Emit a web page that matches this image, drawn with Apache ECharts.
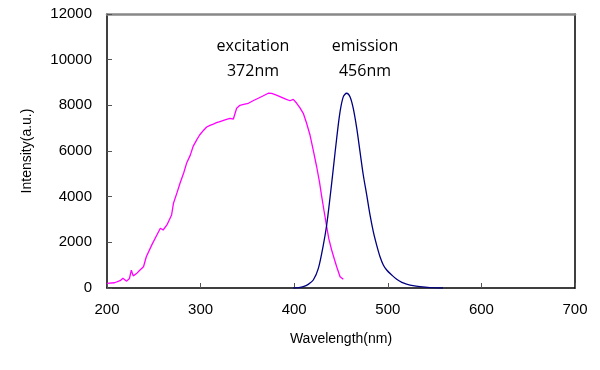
<!DOCTYPE html>
<html>
<head>
<meta charset="utf-8">
<script src="https://cdn.jsdelivr.net/npm/echarts@6/dist/echarts.min.js"></script>
<style>html,body{margin:0;padding:0;background:#fff;}#c{width:600px;height:370px;}</style>
</head>
<body>
<div id="c"></div>
<script>
// Excitation spectrum (wavelength nm, intensity)
const excitationWl = [200, 208, 214, 217, 221, 224, 226, 228, 232, 235, 239, 242, 248, 253, 257, 260, 264, 269, 271, 275, 278, 282, 285, 289, 292, 296, 299, 303, 306.5, 310, 313.6, 317, 320.7, 326, 331.4, 335, 338.5, 342, 346, 351, 356, 361.6, 367, 372.3, 376, 381, 386, 391, 395.5, 399, 402.7, 406, 409.7, 413, 416.9, 420, 424, 427, 429.4, 432, 434.7, 437, 440, 443, 445.4, 449, 452.5];
const excitationVal = [200, 230, 320, 430, 300, 420, 780, 530, 650, 780, 930, 1370, 1900, 2300, 2620, 2540, 2760, 3200, 3710, 4200, 4585, 5050, 5460, 5820, 6200, 6500, 6700, 6900, 7050, 7120, 7180, 7240, 7290, 7360, 7430, 7400, 7870, 8000, 8040, 8090, 8200, 8310, 8420, 8530, 8520, 8450, 8360, 8270, 8200, 8260, 8090, 7900, 7650, 7250, 6700, 6100, 5310, 4650, 4000, 3350, 2685, 2150, 1665, 1250, 930, 495, 380];

// Emission spectrum (wavelength nm, intensity)
const emissionWl = [399, 405, 409.7, 415, 420.4, 425.8, 431.1, 434.7, 438.2, 441.8, 445.4, 449, 452.5, 456, 459.6, 463.1, 466.8, 470.3, 473.8, 477.5, 481, 484.5, 488.1, 491.7, 495.2, 498.8, 504.2, 509.5, 515, 520, 527, 534.4, 545, 559];
const emissionVal = [0, 15, 57, 160, 350, 860, 1880, 2760, 3930, 5240, 6560, 7720, 8380, 8530, 8380, 7870, 7000, 5970, 4950, 4070, 3200, 2470, 1880, 1370, 1010, 790, 570, 380, 250, 175, 100, 57, 20, 0];

const xTicks = [200, 300, 400, 500, 600, 700];
const yTicks = [0, 2000, 4000, 6000, 8000, 10000, 12000];

const annotations = [["excitation", "372nm"], ["emission", "456nm"]];

const chart = echarts.init(document.getElementById('c'), null, {renderer: 'canvas'});
const labelFont = {fontFamily: 'Liberation Sans', fontSize: 15, color: '#000'};
const tickStyle = {show: true, inside: true, length: 5, lineStyle: {color: '#555', width: 1}};
const annFont = '16px "Open Sans"';
function annText(str, x, y) {
  return {type: 'text', x: x, y: y, style: {text: str, textAlign: 'center', textVerticalAlign: 'middle', font: annFont, fill: '#000'}};
}

chart.setOption({
  animation: false,
  backgroundColor: '#fff',
  grid: {left: 107, right: 25, top: 14, bottom: 82, containLabel: false},
  xAxis: [{
    type: 'value', min: xTicks[0], max: xTicks[xTicks.length - 1], interval: 100,
    position: 'bottom',
    name: 'Wavelength(nm)', nameLocation: 'middle', nameGap: 44,
    nameTextStyle: {fontFamily: 'Liberation Sans', fontSize: 14, color: '#000'},
    axisLine: {show: true, onZero: false, lineStyle: {color: '#000', width: 1.5}},
    axisTick: tickStyle,
    axisLabel: Object.assign({margin: 14, formatter: v => String(v)}, labelFont),
    splitLine: {show: false}
  }, {
    type: 'value', min: xTicks[0], max: xTicks[xTicks.length - 1], position: 'top',
    axisLine: {show: true, onZero: false, lineStyle: {color: '#888', width: 2.5}},
    axisTick: {show: false}, axisLabel: {show: false}, splitLine: {show: false}
  }],
  yAxis: [{
    type: 'value', min: yTicks[0], max: yTicks[yTicks.length - 1], interval: 2000,
    position: 'left',
    name: 'Intensity(a.u.)', nameLocation: 'middle', nameGap: 73, nameRotate: 90,
    nameTextStyle: {fontFamily: 'Liberation Sans', fontSize: 14, color: '#000'},
    axisLine: {show: true, onZero: false, lineStyle: {color: '#000', width: 1.5}},
    axisTick: tickStyle,
    axisLabel: Object.assign({margin: 15, formatter: v => String(v)}, labelFont),
    splitLine: {show: false}
  }, {
    type: 'value', min: yTicks[0], max: yTicks[yTicks.length - 1], position: 'right',
    axisLine: {show: true, onZero: false, lineStyle: {color: '#000', width: 1.5}},
    axisTick: {show: false}, axisLabel: {show: false}, splitLine: {show: false}
  }],
  series: [{
    type: 'line', name: 'excitation', xAxisIndex: 0, yAxisIndex: 0,
    data: excitationWl.map((w, i) => [w, excitationVal[i]]),
    showSymbol: false, smooth: false,
    lineStyle: {color: '#ff00ff', width: 1.3}
  }, {
    type: 'line', name: 'emission', xAxisIndex: 0, yAxisIndex: 0,
    data: emissionWl.map((w, i) => [w, emissionVal[i]]),
    showSymbol: false, smooth: 0.3,
    lineStyle: {color: '#000080', width: 1.3}
  }],
  graphic: [
    annText(annotations[0][0], 253, 46),
    annText(annotations[0][1], 253, 71),
    annText(annotations[1][0], 365, 46),
    annText(annotations[1][1], 365, 71)
  ]
});
</script>
</body>
</html>
